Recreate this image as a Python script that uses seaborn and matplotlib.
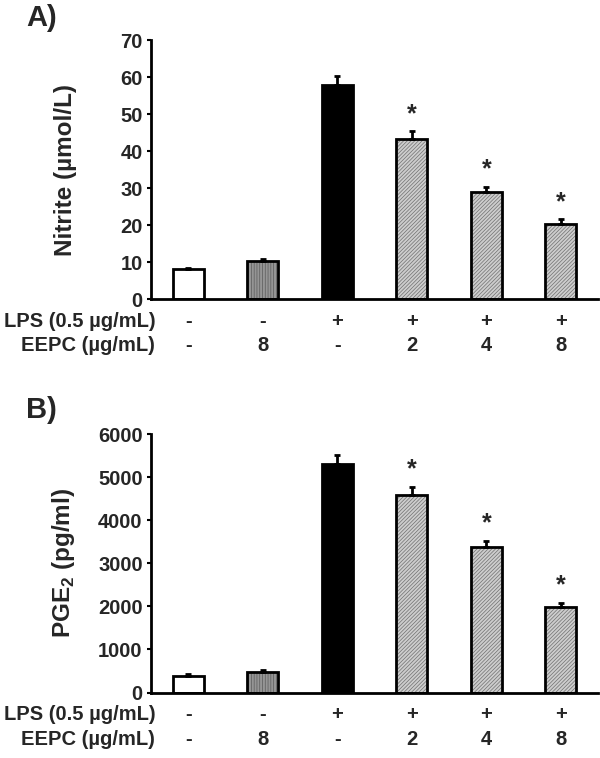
import numpy as np
import pandas as pd
import matplotlib
matplotlib.use('Agg')
import matplotlib.pyplot as plt
from matplotlib.patches import Rectangle
import seaborn as sns

# data
groups = ['g1', 'g2', 'g3', 'g4', 'g5', 'g6']
lps_row = ['-', '-', '+', '+', '+', '+']
eepc_row = ['-', '8', '-', '2', '4', '8']
star = [False, False, False, True, True, True]

nitrite_mean = [8.0, 10.4, 57.9, 43.2, 28.8, 20.3]
nitrite_sem = [0.4, 0.5, 2.3, 2.1, 1.5, 1.2]

pge2_mean = [383, 483, 5302, 4582, 3376, 1984]
pge2_sem = [40, 32, 200, 193, 146, 99]

face = ['white', '#959595', 'black', '#cdcdcd', '#cdcdcd', '#cdcdcd']
hatch = [None, '||||||', None, '/////////', '/////////', '/////////']
hatch_col = [None, '#5a5a5a', None, '#707070', '#707070', '#707070']

sns.set_theme(style='white')
plt.rcParams['font.family'] = ['Liberation Sans', 'DejaVu Sans']
plt.rcParams['font.weight'] = 'bold'
plt.rcParams['mathtext.fontset'] = 'custom'
plt.rcParams['mathtext.rm'] = 'Liberation Sans:bold'
plt.rcParams['mathtext.bf'] = 'Liberation Sans:bold'
plt.rcParams['hatch.linewidth'] = 0.5

fig = plt.figure(figsize=(6, 7.58), dpi=100)


def panel(rect, mean, sem, ymax, step, ylabel, tag):
    ax = fig.add_axes(rect)
    df = pd.DataFrame({'group': groups, 'value': mean})
    sns.barplot(data=df, x='group', y='value', hue='group', palette=face,
                width=0.42, errorbar=None, legend=False, ax=ax, linewidth=0)
    for p, h, hc in zip(ax.patches, hatch, hatch_col):
        if h:
            p.set_hatch(h)
            p.set_edgecolor(hc)
            p.set_linewidth(0)
        ax.add_patch(Rectangle(p.get_xy(), p.get_width(), p.get_height(),
                               fill=False, ec='black', lw=2, zorder=3))
    x = np.arange(len(groups))
    ax.errorbar(x, mean, yerr=[np.zeros(len(sem)), sem], fmt='none',
                ecolor='black', elinewidth=2, capsize=2, capthick=2, zorder=4)
    for i in range(len(groups)):
        if star[i]:
            ax.annotate('*', xy=(x[i], mean[i] + sem[i]), xytext=(0, 4),
                        textcoords='offset points', ha='center', va='bottom',
                        fontsize=18, fontweight='bold')
    ax.set_xlim(-0.5, len(groups) - 0.5)
    ax.set_ylim(0, ymax)
    ax.set_yticks(np.arange(0, ymax + 1, step))
    ax.set_xticks([])
    ax.set_xlabel('')
    ax.set_ylabel(ylabel, fontsize=17.5, fontweight='bold')
    ax.yaxis.set_label_coords(-0.165, 0.5)
    ax.tick_params(axis='y', left=True, length=3, width=1.5, pad=3,
                   labelsize=14.5, color='black')
    for s in ['top', 'right']:
        ax.spines[s].set_visible(False)
    for s in ['left', 'bottom']:
        ax.spines[s].set_color('black')
        ax.spines[s].set_linewidth(2)
    # treatment rows under the axis
    for i in range(len(groups)):
        ax.annotate(lps_row[i], xy=(x[i], 0), xycoords=('data', 'axes fraction'),
                    xytext=(0, -16), textcoords='offset points', ha='center',
                    va='center', fontsize=14.5, fontweight='bold')
        ax.annotate(eepc_row[i], xy=(x[i], 0), xycoords=('data', 'axes fraction'),
                    xytext=(0, -33.5), textcoords='offset points', ha='center',
                    va='center', fontsize=14.5, fontweight='bold')
    ax.annotate('LPS (0.5 \u00b5g/mL)', xy=(0, 0), xycoords='axes fraction',
                xytext=(3, -16), textcoords='offset points', ha='right',
                va='center', fontsize=14.5, fontweight='bold')
    ax.annotate('EEPC (\u00b5g/mL)', xy=(0, 0), xycoords='axes fraction',
                xytext=(3, -33.5), textcoords='offset points', ha='right',
                va='center', fontsize=14.5, fontweight='bold')
    fig.text(tag[1], tag[2], tag[0], fontsize=21, fontweight='bold',
             ha='left', va='top')
    return ax


panel([0.2517, 0.6055, 0.745, 0.3417], nitrite_mean, nitrite_sem, 70, 10,
      'Nitrite (\u00b5mol/L)', ('A)', 0.043, 0.995))
panel([0.2517, 0.0864, 0.745, 0.341], pge2_mean, pge2_sem, 6000, 1000,
      r'PGE$_{\mathbf{2}}$ (pg/ml)', ('B)', 0.043, 0.478))

fig.savefig('out.png', dpi=100)
